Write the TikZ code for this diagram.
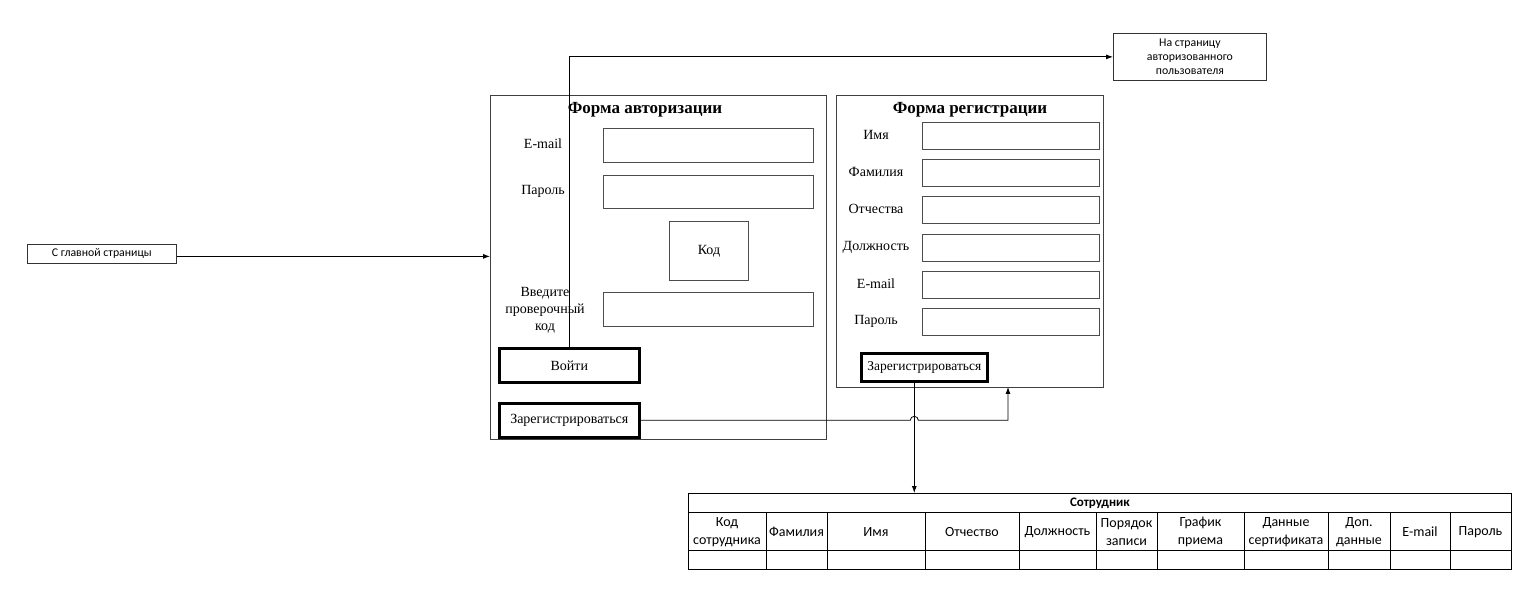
\documentclass[tikz,border=0pt]{standalone}
\usepackage{fontspec}
\setmainfont{Liberation Serif}
\newfontfamily\calib{Carlito}
\usetikzlibrary{arrows.meta,calc}

\begin{document}
\begin{tikzpicture}[
	x = 1pt, y = -1pt,
	every node/.style = {inner sep = 0pt},
	box/.style = {draw, anchor = north west},
	frm/.style = {box, draw = black!75, line width = 0.8pt},
	fld/.style = {box, draw = black!70, line width = 0.9pt},
	btn/.style = {box, line width = 2.6pt, font = \fontsize{14}{16}\selectfont},
	lbl/.style = {font = \fontsize{14}{17}\selectfont, align = center},
	ttl/.style = {font = \bfseries\fontsize{17}{19}\selectfont},
	small/.style = {box, draw = black!80, line width = 0.8pt, align = center,
		font = \calib\fontsize{11.8}{14}\selectfont},
	cell/.style = {font = \calib\fontsize{14}{18}\selectfont, align = center},
	arr/.style = {-{Latex[length=7pt,width=5pt]}, line width = 0.8pt}
	]
	\useasboundingbox (0,0) rectangle (1529,593);
	% outer pages
	\node[small, minimum width = 149, minimum height = 19] (home) at (27,244) {С главной страницы};
	\node[small, minimum width = 153, minimum height = 47] (authuser) at (1113,33)
		{На страницу\\авторизованного\\пользователя};
	% login form
	\node[frm, minimum width = 336, minimum height = 344] (auth) at (490,95) {};
	\node[ttl] (authttl) at (645,110) {Форма авторизации};
	\node[lbl] (lmail) at (543,144) {E-mail};
	\node[fld, minimum width = 210, minimum height = 34] (fmail) at (603,128) {};
	\node[lbl] (lpass) at (543,191) {Пароль};
	\node[fld, minimum width = 210, minimum height = 33] (fpass) at (603,175) {};
	\node[fld, lbl, minimum width = 79, minimum height = 59] (code) at (669,221) {Код};
	\node[lbl] (lcode) at (545,310) {Введите\\проверочный\\код};
	\node[fld, minimum width = 210, minimum height = 34] (fcode) at (603,292) {};
	\node[btn, minimum width = 140, minimum height = 34] (login) at (498,347) {Войти};
	\node[btn, minimum width = 140, minimum height = 34] (reg1) at (498,402) {Зарегистрироваться};
	% registration form
	\node[frm, minimum width = 267, minimum height = 292] (regform) at (836,95) {};
	\node[ttl] (regttl) at (970,110) {Форма регистрации};
	\foreach \y/\t [count=\i] in {122/Имя, 159/Фамилия, 196/Отчества, 234/Должность, 271/E-mail, 308/Пароль} {
		\node[lbl] (l\i) at (876,\y+13) {\t};
		\node[fld, minimum width = 177, minimum height = 27] (f\i) at (922,\y) {};
	}
	\node[btn, minimum width = 126, minimum height = 28, font = \fontsize{13.5}{16}\selectfont]
		(regbtn) at (860,352) {Зарегистрироваться};
	% employee table
	\node[box, line width = 0.8pt, minimum width = 823, minimum height = 19,
		font = \calib\bfseries\fontsize{13}{14}\selectfont] (tbl) at (688,493) {Сотрудник};
	\foreach \a/\b/\t in {688/766/{Код\\сотрудника}, 766/827/Фамилия, 827/925/Имя,
		925/1019/Отчество, 1019/1096/Должность, 1096/1157/{Порядок\\записи},
		1157/1244/{График\\приема}, 1244/1328/{Данные\\сертификата},
		1328/1390/{Доп.\\данные}, 1390/1450/E-mail, 1450/1511/Пароль} {
		\draw[line width = 0.8pt] (\a,512) rectangle (\b,569) (\a,550) -- (\b,550);
		\node[cell] at ({(\a+\b)/2},532) {\t};
	}
	% connectors
	\coordinate (drop) at ([xshift=-10pt]regbtn.south);
	\coordinate (hop) at (drop |- reg1.east);
	\coordinate (rin) at (1008,387);
	\draw[arr] ([yshift=-2.5pt]home.east) -- ([yshift=-2.5pt]home.east -| auth.west);
	\draw[arr] (login.north) |- (authuser.west);
	\draw[arr] (reg1.east) -- ([xshift=-4pt]hop) arc[start angle=180, end angle=360, radius=4]
		-- (rin |- reg1.east) -- (rin);
	\draw[arr] (drop) -- (drop |- tbl.north);
\end{tikzpicture}
\end{document}
